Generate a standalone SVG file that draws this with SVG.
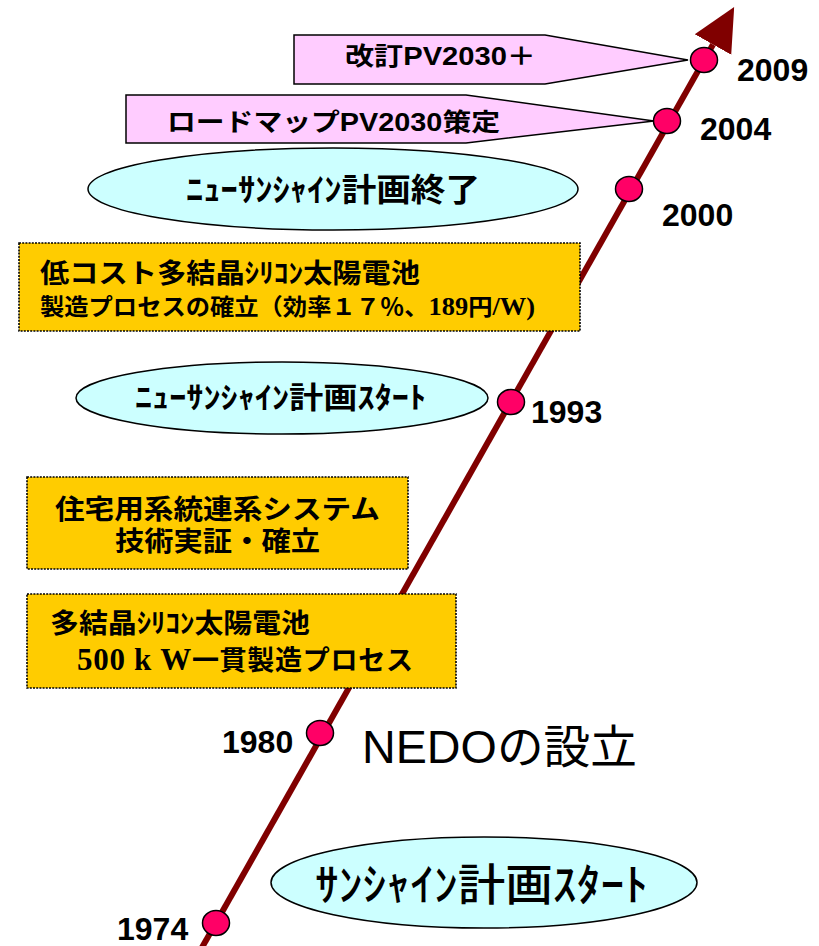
<svg xmlns="http://www.w3.org/2000/svg" width="819" height="946" viewBox="0 0 819 946">
<style>
.call{fill:#FFCCFF;stroke:#000;stroke-width:1.5}
.ell{fill:#CCFFFF;stroke:#000;stroke-width:1.5}
.box{fill:#FFCC00;stroke:#000;stroke-width:1.6;stroke-dasharray:2 1.2}
.dot{fill:#FF0066;stroke:#000;stroke-width:1.5}
.jp{font-family:"Liberation Sans","Noto Sans CJK JP",sans-serif;font-weight:700;fill:#000}
.jpr{font-family:"Noto Sans CJK JP",sans-serif;font-weight:500;fill:#000}
.yr{font-family:"Liberation Sans",Arial,sans-serif;font-weight:700;font-size:32px;fill:#000}
.serif{font-family:"Liberation Serif","Noto Sans CJK JP",serif;font-weight:700}
</style>
<defs>
<marker id="arrow" markerUnits="userSpaceOnUse" markerWidth="44" markerHeight="44" viewBox="0 -21 42 42" refX="0" refY="0" orient="auto">
<path d="M0,-20 L41,0 L0,20 z" fill="#800000"/>
</marker>
</defs>

<g id="connectors">
<path d="M200,951 L713,44.5" stroke="#800000" stroke-width="6" fill="none" marker-end="url(#arrow)"/>
</g>

<g id="callout-2009">
<polygon class="call" points="294,35 545,35 688,60 545,84 294,84"/>
<text class="jp" x="345" y="65" font-size="25" textLength="191" lengthAdjust="spacingAndGlyphs">改訂PV2030＋</text>
</g>

<g id="callout-2004">
<polygon class="call" points="126,95 466,95 654,121 466,143 126,143"/>
<text class="jp" x="167" y="131" font-size="25" textLength="333" lengthAdjust="spacingAndGlyphs">ロードマップPV2030策定</text>
</g>

<g id="ellipse-2000">
<ellipse class="ell" cx="333" cy="189" rx="245" ry="41"/>
<text class="jp" x="186" y="201" font-size="32" textLength="294" lengthAdjust="spacingAndGlyphs">ﾆｭｰｻﾝｼｬｲﾝ計画終了</text>
</g>

<g id="box-lowcost">
<rect class="box" x="19" y="243" width="561" height="88"/>
<text class="jp" x="40" y="283" font-size="27" textLength="380" lengthAdjust="spacingAndGlyphs">低コスト多結晶ｼﾘｺﾝ太陽電池</text>
<text class="jp" x="40" y="315" font-size="23" textLength="495" lengthAdjust="spacingAndGlyphs">製造プロセスの確立（効率１７％、<tspan class="serif" font-size="25">189</tspan>円<tspan class="serif" font-size="25">/W)</tspan></text>
</g>

<g id="ellipse-1993">
<ellipse class="ell" cx="282" cy="398" rx="206" ry="36"/>
<text class="jp" x="135" y="408" font-size="30" textLength="291" lengthAdjust="spacingAndGlyphs">ﾆｭｰｻﾝｼｬｲﾝ計画ｽﾀｰﾄ</text>
</g>

<g id="box-residential">
<rect class="box" x="27" y="477" width="381" height="92"/>
<text class="jp" x="55" y="519" font-size="27" textLength="325" lengthAdjust="spacingAndGlyphs">住宅用系統連系システム</text>
<text class="jp" x="115" y="551" font-size="27" textLength="205" lengthAdjust="spacingAndGlyphs">技術実証・確立</text>
</g>

<g id="box-multicrystal">
<rect class="box" x="27" y="594" width="429" height="94"/>
<text class="jp" x="50" y="633" font-size="27" textLength="260" lengthAdjust="spacingAndGlyphs">多結晶ｼﾘｺﾝ太陽電池</text>
<text class="jp" x="77" y="670" font-size="27" textLength="336" lengthAdjust="spacing"><tspan class="serif" font-size="31">500</tspan> <tspan class="serif" font-size="31">k</tspan> <tspan class="serif" font-size="31">W</tspan>一貫製造プロセス</text>
</g>

<g id="nedo">
<text x="362" y="763" font-family="'Liberation Sans','Noto Sans CJK JP',sans-serif" font-size="46" textLength="275" lengthAdjust="spacingAndGlyphs" fill="#000">NEDOの設立</text>
</g>

<g id="ellipse-1974">
<ellipse class="ell" cx="484" cy="882.5" rx="213" ry="45.5"/>
<text class="jpr" x="315" y="901" font-size="44" textLength="333" lengthAdjust="spacingAndGlyphs">ｻﾝｼｬｲﾝ計画ｽﾀｰﾄ</text>
</g>

<g id="markers">
<ellipse class="dot" cx="704" cy="60" rx="13.5" ry="12.5"/>
<ellipse class="dot" cx="667" cy="121" rx="13.5" ry="12.5"/>
<ellipse class="dot" cx="629" cy="189" rx="13.5" ry="12.5"/>
<ellipse class="dot" cx="511" cy="402" rx="13.5" ry="12.5"/>
<ellipse class="dot" cx="320" cy="733" rx="13.5" ry="12.5"/>
<ellipse class="dot" cx="216" cy="923" rx="13.5" ry="12.5"/>
</g>

<g id="years">
<text class="yr" x="737" y="81">2009</text>
<text class="yr" x="700" y="140">2004</text>
<text class="yr" x="662" y="226">2000</text>
<text class="yr" x="531" y="423">1993</text>
<text class="yr" x="222" y="753">1980</text>
<text class="yr" x="117" y="940">1974</text>
</g>
</svg>
